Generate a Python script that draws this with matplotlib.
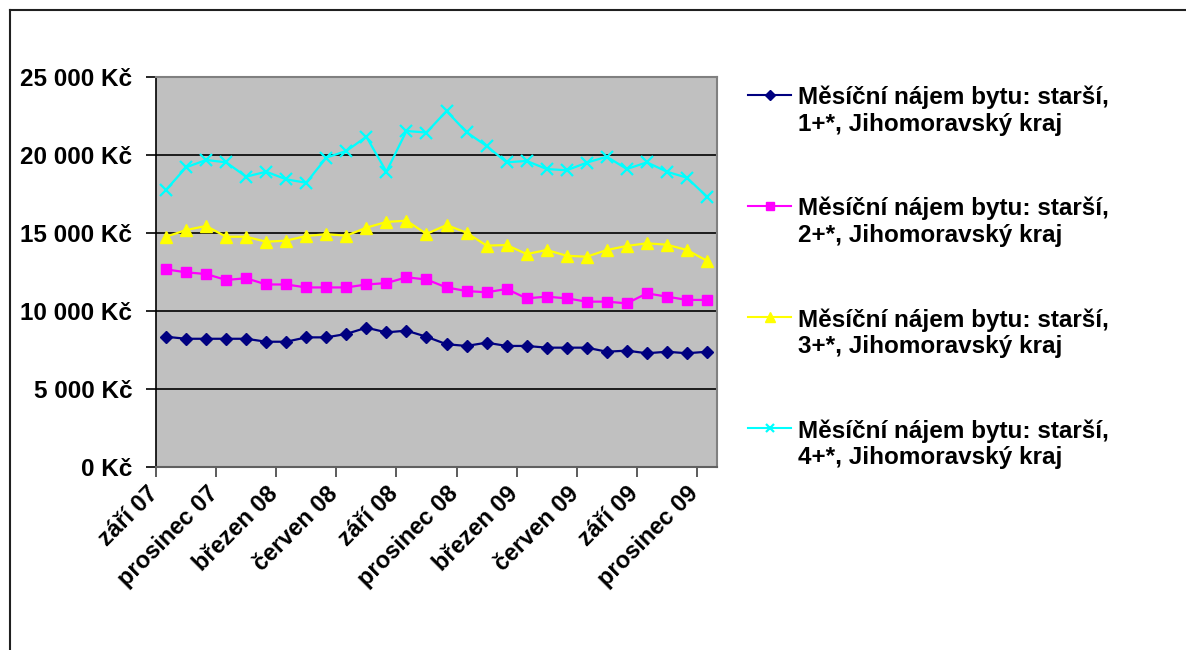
import matplotlib
matplotlib.use("Agg")
import matplotlib.pyplot as plt
from matplotlib.lines import Line2D
from matplotlib.ticker import FuncFormatter, FixedLocator
from matplotlib.transforms import ScaledTranslation
import numpy as np

# monthly rent, Sep 2007 - Dec 2009
months = ["září 07", "říjen 07", "listopad 07", "prosinec 07",
          "leden 08", "únor 08", "březen 08", "duben 08", "květen 08", "červen 08",
          "červenec 08", "srpen 08", "září 08", "říjen 08", "listopad 08", "prosinec 08",
          "leden 09", "únor 09", "březen 09", "duben 09", "květen 09", "červen 09",
          "červenec 09", "srpen 09", "září 09", "říjen 09", "listopad 09", "prosinec 09"]

rent_1 = [8350, 8220, 8220, 8220, 8220, 8030, 8030, 8310, 8310, 8530,
          8930, 8630, 8740, 8350, 7870, 7760, 7970, 7760, 7760, 7650,
          7650, 7650, 7390, 7460, 7290, 7390, 7290, 7390]
rent_2 = [12670, 12480, 12370, 11990, 12100, 11700, 11700, 11510, 11510, 11510,
          11700, 11790, 12160, 12020, 11510, 11280, 11200, 11410, 10810, 10920,
          10810, 10600, 10600, 10490, 11130, 10920, 10710, 10710]
rent_3 = [14760, 15190, 15450, 14760, 14760, 14440, 14510, 14810, 14920, 14830,
          15340, 15710, 15790, 14940, 15510, 15020, 14190, 14230, 13650, 13910,
          13540, 13480, 13910, 14170, 14340, 14250, 13910, 13220]
rent_4 = [17760, 19210, 19680, 19530, 18610, 18930, 18440, 18220, 19830, 20260,
          21170, 18930, 21540, 21440, 22820, 21460, 20580, 19530, 19620, 19100,
          19020, 19510, 19890, 19100, 19530, 18930, 18540, 17330]

labels = ["Měsíční nájem bytu: starší,\n1+*, Jihomoravský kraj",
          "Měsíční nájem bytu: starší,\n2+*, Jihomoravský kraj",
          "Měsíční nájem bytu: starší,\n3+*, Jihomoravský kraj",
          "Měsíční nájem bytu: starší,\n4+*, Jihomoravský kraj"]

styles = [
    dict(color="#000080", marker="D", ms=6.5),
    dict(color="#FF00FF", marker="s", ms=7),
    dict(color="#FFFF00", marker="^", ms=8.5),
    dict(color="#00FFFF", marker="x", ms=8, mew=1.6),
]

plt.rcParams['font.family'] = ['Liberation Sans', 'DejaVu Sans']
plt.rcParams['font.weight'] = 'bold'
fs = 17.5

fig = plt.figure(figsize=(11.86, 6.5), dpi=100)
ax = fig.add_axes([156 / 1186, 1 - 467 / 650, (717 - 156) / 1186, (467 - 77) / 650])
ax.set_facecolor("#C0C0C0")

x = np.arange(len(months))
for vals, st in zip([rent_1, rent_2, rent_3, rent_4], styles):
    ax.plot(x, vals, lw=1.6, zorder=3, **st)

ax.set_xlim(-0.5, len(months) - 0.5)
ax.set_ylim(0, 25000)
ax.set_yticks(np.arange(0, 25001, 5000))
ax.yaxis.set_major_formatter(FuncFormatter(lambda v, p: f"{int(v):,} Kč".replace(",", " ")))
ax.grid(axis="y", color="black", lw=1.2, zorder=1)
ax.set_axisbelow(True)

# labels every third month, tick marks at the category boundaries
ax.xaxis.set_minor_locator(FixedLocator(np.arange(-0.5, len(months) - 1, 3)))
ax.tick_params(axis="x", which="major", length=0, pad=8, labelsize=17)
ax.tick_params(axis="x", which="minor", length=7, width=1.2, color="#404040")
ax.tick_params(axis="y", length=7, width=1.2, pad=10, labelsize=fs)
ax.set_xticks(x[::3])
ax.set_xticklabels(months[::3], rotation=45, ha="right", rotation_mode="anchor")
shift = ScaledTranslation(-0.2, -0.04, fig.dpi_scale_trans)
for t in ax.get_xticklabels():
    t.set_transform(t.get_transform() + shift)

for s in ["top", "right"]:
    ax.spines[s].set_color("#808080")
    ax.spines[s].set_linewidth(1.5)
ax.spines["left"].set_color("black")
ax.spines["bottom"].set_color("#606060")
ax.spines["left"].set_linewidth(1.2)
ax.spines["bottom"].set_linewidth(1.5)

# legend drawn by hand so each marker sits on the first text line
W, H = 1186, 650
for i, (lab, st) in enumerate(zip(labels, styles)):
    ym = 94.5 + i * 111.3
    yy = 1 - ym / H
    fig.add_artist(Line2D([748 / W, 791 / W], [yy, yy], color=st["color"], lw=1.5))
    fig.add_artist(Line2D([769.5 / W], [yy], color=st["color"], marker=st["marker"],
                          ms=st["ms"] * 0.8, mew=st.get("mew", 1)))
    fig.text(798 / W, 1 - (ym - 9) / H, lab, fontsize=fs, fontweight="bold",
             va="top", linespacing=1.2)

# chart frame
fig.add_artist(Line2D([10 / W, 1], [1 - 10 / H, 1 - 10 / H], color="#202020", lw=1.5))
fig.add_artist(Line2D([10 / W, 10 / W], [0, 1 - 10 / H], color="#202020", lw=1.5))

fig.savefig("out.png", dpi=100)
